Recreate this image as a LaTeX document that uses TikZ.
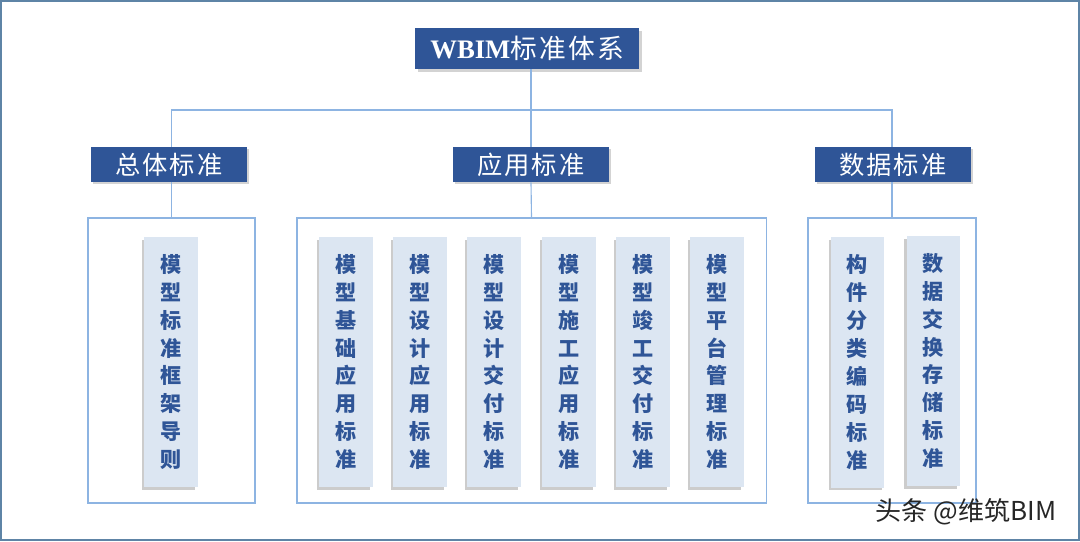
\documentclass[tikz,border=0pt]{standalone}
\usepackage{fontspec}
\setmainfont{Liberation Serif}
\newfontfamily\cjk{Noto Sans CJK SC}
\newfontfamily\cjkwide[LetterSpace=8]{Noto Sans CJK SC}
\usepackage{tikz}
\usetikzlibrary{positioning,shadows}
\definecolor{deepblue}{HTML}{2F5597}
\definecolor{paleblue}{HTML}{DCE6F2}
\definecolor{wireblue}{HTML}{8DB4E2}
\definecolor{slate}{HTML}{5E84A6}

\begin{document}
\begin{tikzpicture}[
    x=0.025cm, y=-0.025cm,
    head/.style={rectangle,fill=deepblue,text=white,minimum width=5.6cm,minimum height=1.025cm,
                 font=\fontsize{19}{22}\selectfont,inner sep=0pt,
                 drop shadow={shadow xshift=2pt,shadow yshift=-2pt,opacity=0.35}},
    cat/.style={rectangle,fill=deepblue,text=white,minimum width=3.9cm,minimum height=0.875cm,
                font=\cjkwide\fontsize{18}{20}\selectfont,inner sep=0pt,
                drop shadow={shadow xshift=1.5pt,shadow yshift=-1.5pt,opacity=0.35}},
    group/.style={rectangle,draw=wireblue,line width=0.8pt,minimum height=7.125cm,inner sep=0pt},
    leaf/.style={rectangle,fill=paleblue,text=deepblue,minimum width=1.325cm,minimum height=6.25cm,
                 align=center,inner sep=0pt,font=\cjk\bfseries\fontsize{15}{19.85}\selectfont,
                 drop shadow={shadow xshift=-1.5pt,shadow yshift=-2pt,opacity=0.4}},
    wire/.style={draw=wireblue,line width=0.8pt}
]
\useasboundingbox (0,0) rectangle (1080,541);
\draw[slate,line width=1.4pt] (1,1) rectangle (1079,540);

% top
\node[head] (root) at (527,48.5) {\textbf{WBIM}{\cjkwide 标准体系}};
\coordinate (bus) at (531,110);

% categories
\node[cat] (zt) at (169,164.5) {总体标准};
\node[cat] (yy) at (531,164.5) {应用标准};
\node[cat] (sj) at (893,164.5) {数据标准};

% frames
\node[group,minimum width=4.175cm] (g1) at (171.5,360.5) {};
\node[group,minimum width=11.725cm] (g2) at (531.5,360.5) {};
\node[group,minimum width=4.2cm] (g3) at (892,360.5) {};

\draw[wire] (root.south -| bus) -- (bus);
\draw[wire] (zt.north -| g1.north) |- (bus) -| (sj.north -| g3.north);
\draw[wire] (yy.north) -- (bus);
\draw[wire] (zt.south -| g1.north) -- (g1.north);
\draw[wire] (yy.south) -- (g2.north);
\draw[wire] (sj.south -| g3.north) -- (g3.north);

% leaves
\node[leaf] (k1) at (171,362) {模\\型\\标\\准\\框\\架\\导\\则};

\node[leaf] (a1) at (346,362) {模\\型\\基\\础\\应\\用\\标\\准};
\node[leaf] (a2) at (420,362) {模\\型\\设\\计\\应\\用\\标\\准};
\node[leaf] (a3) at (494,362) {模\\型\\设\\计\\交\\付\\标\\准};
\node[leaf] (a4) at (569,362) {模\\型\\施\\工\\应\\用\\标\\准};
\node[leaf] (a5) at (643,362) {模\\型\\竣\\工\\交\\付\\标\\准};
\node[leaf] (a6) at (717,362) {模\\型\\平\\台\\管\\理\\标\\准};

\node[leaf] (d1) at (857.5,362.5) {构\\件\\分\\类\\编\\码\\标\\准};
\node[leaf] (d2) at (933,361) {数\\据\\交\\换\\存\\储\\标\\准};

% watermark
\node[font=\cjk\fontsize{18.5}{20}\selectfont,text=black!85,inner sep=0pt] (mark) at (966,512) {头条 @维筑BIM};
\end{tikzpicture}
\end{document}
